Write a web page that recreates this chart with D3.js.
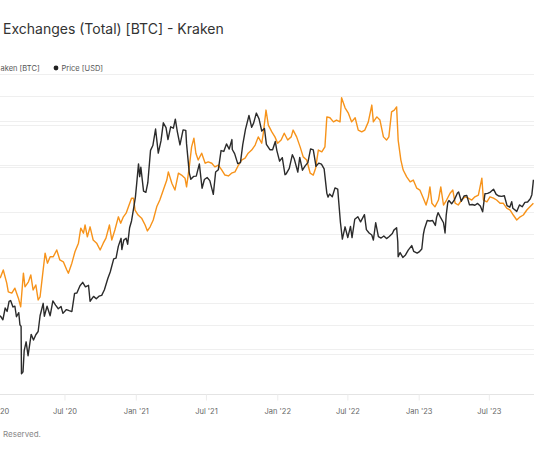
<!DOCTYPE html>
<html>
<head>
<meta charset="utf-8">
<script src="https://cdn.jsdelivr.net/npm/d3@7"></script>
<style>
  body { margin: 0; background: #fff; }
  svg { display: block; font-family: Inter, "Noto Sans", sans-serif; }
</style>
</head>
<body>
<svg id="chart" width="534" height="462"></svg>
<script>
// Kraken exchange balance [BTC] vs BTC price [USD], cropped view as in the reference

const balanceSeries = [
  ["2020-01-17",85500],["2020-01-25",87300],["2020-02-03",84400],["2020-02-07",82500],["2020-02-16",82200],
  ["2020-02-24",83300],["2020-03-04",81100],["2020-03-10",79200],["2020-03-17",86600],["2020-03-21",83600],
  ["2020-03-30",84700],["2020-04-05",86200],["2020-04-11",82900],["2020-04-18",84000],["2020-04-24",80700],
  ["2020-04-29",81400],["2020-05-06",86600],["2020-05-12",91000],["2020-05-18",88800],["2020-05-25",90200],
  ["2020-06-02",90200],["2020-06-11",91700],["2020-06-19",89500],["2020-06-28",89100],["2020-07-07",87300],
  ["2020-07-11",86600],["2020-07-20",88800],["2020-07-28",91300],["2020-08-06",93200],["2020-08-12",96500],
  ["2020-08-19",95400],["2020-08-23",97200],["2020-08-29",94600],["2020-09-05",96800],["2020-09-13",93900],
  ["2020-09-22",93200],["2020-10-01",91700],["2020-10-09",93200],["2020-10-16",94300],["2020-10-25",97200],
  ["2020-10-31",93900],["2020-11-08",96100],["2020-11-17",99000],["2020-11-23",97600],["2020-11-30",99000],
  ["2020-12-07",99800],["2020-12-13",101200],["2020-12-21",103100],["2020-12-26",103100],["2020-12-30",100500],
  ["2021-01-07",99400],["2021-01-16",98700],["2021-01-25",97200],["2021-01-31",95900],["2021-02-07",96800],
  ["2021-02-15",98300],["2021-02-24",101200],["2021-03-04",102700],["2021-03-13",104900],["2021-03-22",107100],
  ["2021-03-26",108900],["2021-04-04",106400],["2021-04-12",104900],["2021-04-21",108600],["2021-04-29",108200],
  ["2021-05-08",107500],["2021-05-12",105600],["2021-05-19",110000],["2021-05-25",114400],["2021-05-31",116300],
  ["2021-06-05",113000],["2021-06-11",111500],["2021-06-20",113000],["2021-06-29",110800],["2021-07-07",111100],
  ["2021-07-16",110800],["2021-07-24",110000],["2021-08-02",110400],["2021-08-11",109300],["2021-08-19",108200],
  ["2021-08-28",108000],["2021-09-05",108600],["2021-09-14",108900],["2021-09-23",110400],["2021-10-01",111500],
  ["2021-10-10",111900],["2021-10-18",113000],["2021-10-27",113700],["2021-11-05",114800],["2021-11-13",116600],
  ["2021-11-22",115200],["2021-11-26",117400],["2021-12-03",122500],["2021-12-09",119200],["2021-12-18",117700],
  ["2021-12-26",116600],["2022-01-02",115200],["2022-01-11",115900],["2022-01-19",117400],["2022-01-28",115900],
  ["2022-02-06",116600],["2022-02-11",118100],["2022-02-20",116600],["2022-03-01",114400],["2022-03-09",112200],
  ["2022-03-18",111500],["2022-03-27",108600],["2022-04-04",108200],["2022-04-10",109700],["2022-04-17",113700],
  ["2022-04-26",113300],["2022-05-04",114400],["2022-05-09",121000],["2022-05-17",120800],["2022-05-26",119900],
  ["2022-06-03",120300],["2022-06-12",119900],["2022-06-16",125200],["2022-06-25",123000],["2022-07-03",121900],
  ["2022-07-12",119900],["2022-07-21",120800],["2022-07-29",118100],["2022-08-07",117700],["2022-08-15",118100],
  ["2022-08-24",119900],["2022-09-02",123600],["2022-09-06",119900],["2022-09-15",121000],["2022-09-23",120300],
  ["2022-10-02",116600],["2022-10-10",115900],["2022-10-16",116600],["2022-10-23",122100],["2022-10-30",122500],
  ["2022-11-05",123200],["2022-11-09",115900],["2022-11-16",111500],["2022-11-22",109300],["2022-12-01",107800],
  ["2022-12-10",106700],["2022-12-18",107100],["2022-12-27",105300],["2023-01-04",104900],["2023-01-13",103100],
  ["2023-01-20",101600],["2023-01-26",103400],["2023-01-30",105600],["2023-02-04",102000],["2023-02-12",101200],
  ["2023-02-21",102700],["2023-02-27",105600],["2023-03-06",101600],["2023-03-14",102700],["2023-03-23",104200],
  ["2023-03-30",104900],["2023-04-05",102000],["2023-04-13",101600],["2023-04-22",102700],["2023-05-01",103400],
  ["2023-05-09",103100],["2023-05-18",102700],["2023-05-26",103400],["2023-06-04",103800],["2023-06-13",107500],
  ["2023-06-17",102700],["2023-06-26",102300],["2023-07-04",103400],["2023-07-13",103100],["2023-07-21",102700],
  ["2023-07-30",102000],["2023-08-07",102000],["2023-08-16",100900],["2023-08-25",100500],["2023-09-02",99400],
  ["2023-09-11",98300],["2023-09-20",99000],["2023-09-28",99400],["2023-10-07",100500],["2023-10-15",101200],
  ["2023-10-24",102000]
];

const priceSeries = [
  ["2020-01-01",7200],["2020-01-07",8160],["2020-01-14",8840],["2020-01-19",8700],["2020-01-24",8440],
  ["2020-01-30",9500],["2020-02-04",9180],["2020-02-09",10150],["2020-02-13",10240],["2020-02-19",9600],
  ["2020-02-24",9670],["2020-02-28",8700],["2020-03-05",9060],["2020-03-08",8030],["2020-03-11",7900],
  ["2020-03-12",4900],["2020-03-16",5000],["2020-03-19",6190],["2020-03-24",6760],["2020-03-29",5880],
  ["2020-04-06",7290],["2020-04-12",6880],["2020-04-18",7260],["2020-04-24",7500],["2020-04-29",8790],
  ["2020-05-07",9960],["2020-05-10",8740],["2020-05-17",9670],["2020-05-25",8790],["2020-06-01",10200],
  ["2020-06-08",9780],["2020-06-15",9430],["2020-06-22",9650],["2020-06-27",9000],["2020-07-06",9350],
  ["2020-07-13",9250],["2020-07-20",9160],["2020-07-27",11000],["2020-08-02",11050],["2020-08-10",11880],
  ["2020-08-17",12300],["2020-08-24",11750],["2020-09-01",11940],["2020-09-05",10170],["2020-09-14",10680],
  ["2020-09-21",10420],["2020-09-28",10700],["2020-10-05",10790],["2020-10-12",11420],["2020-10-21",12820],
  ["2020-10-27",13650],["2020-11-05",15580],["2020-11-11",15700],["2020-11-17",17700],["2020-11-24",19150],
  ["2020-11-26",17100],["2020-12-01",18800],["2020-12-07",19170],["2020-12-11",18050],["2020-12-16",21300],
  ["2020-12-21",22800],["2020-12-27",26300],["2020-12-31",28990],
  ["2021-01-03",32800],["2021-01-08",40500],["2021-01-11",35600],["2021-01-14",39200],["2021-01-21",30800],
  ["2021-01-27",30400],["2021-02-01",33500],["2021-02-08",46400],["2021-02-14",48700],["2021-02-21",57500],
  ["2021-02-28",45100],["2021-03-07",51000],["2021-03-13",61200],["2021-03-20",58300],["2021-03-25",51700],
  ["2021-04-01",58800],["2021-04-08",58000],["2021-04-13",63500],["2021-04-18",56200],["2021-04-25",49000],
  ["2021-05-03",57000],["2021-05-10",56700],["2021-05-12",49500],["2021-05-19",37000],["2021-05-23",34700],
  ["2021-05-30",35700],["2021-06-06",35800],["2021-06-14",40500],["2021-06-21",31700],["2021-06-27",34600],
  ["2021-07-04",35300],["2021-07-11",34200],["2021-07-20",29800],["2021-07-26",37300],["2021-08-02",38200],
  ["2021-08-09",46300],["2021-08-16",45900],["2021-08-23",49500],["2021-08-30",47000],["2021-09-06",51700],
  ["2021-09-07",46800],["2021-09-13",44900],["2021-09-21",40600],["2021-09-28",41000],["2021-10-04",49100],
  ["2021-10-11",57300],["2021-10-20",65900],["2021-10-27",58500],["2021-11-01",61000],["2021-11-08",67500],
  ["2021-11-15",63700],["2021-11-22",56300],["2021-11-29",57800],["2021-12-04",49300],["2021-12-13",46700],
  ["2021-12-20",46700],["2021-12-27",50700],["2021-12-31",46300],
  ["2022-01-07",41600],["2022-01-14",43100],["2022-01-21",36300],["2022-01-24",36600],["2022-02-01",38700],
  ["2022-02-09",44400],["2022-02-14",42500],["2022-02-23",37300],["2022-02-28",43200],["2022-03-07",38000],
  ["2022-03-14",39700],["2022-03-21",41000],["2022-03-28",47100],["2022-04-04",46600],["2022-04-11",39500],
  ["2022-04-18",40800],["2022-04-25",40400],["2022-05-02",38500],["2022-05-09",30100],["2022-05-12",29000],
  ["2022-05-16",29900],["2022-05-23",29100],["2022-05-30",31800],["2022-06-06",31400],["2022-06-13",22500],
  ["2022-06-18",19000],["2022-06-25",21500],["2022-07-02",19300],["2022-07-09",21600],["2022-07-13",19300],
  ["2022-07-20",23200],["2022-07-28",23800],["2022-08-04",22600],["2022-08-14",24300],["2022-08-19",20900],
  ["2022-08-26",20200],["2022-09-02",19800],["2022-09-06",18800],["2022-09-12",22400],["2022-09-19",19500],
  ["2022-09-26",19200],["2022-10-03",19600],["2022-10-10",19100],["2022-10-17",19500],["2022-10-25",20100],
  ["2022-10-29",20800],["2022-11-05",21300],["2022-11-08",18500],["2022-11-09",15900],["2022-11-14",16600],
  ["2022-11-21",15800],["2022-11-28",16200],["2022-12-05",17000],["2022-12-14",17800],["2022-12-19",16800],
  ["2022-12-28",16500],
  ["2023-01-02",16700],["2023-01-09",17200],["2023-01-13",19900],["2023-01-16",21100],["2023-01-23",22900],
  ["2023-01-30",22800],["2023-02-06",22900],["2023-02-13",21800],["2023-02-16",23600],["2023-02-20",24800],
  ["2023-02-27",23500],["2023-03-06",22400],["2023-03-10",20200],["2023-03-13",24200],["2023-03-17",27400],
  ["2023-03-20",28000],["2023-03-27",27100],["2023-04-03",28200],["2023-04-11",30200],["2023-04-14",30500],
  ["2023-04-21",27800],["2023-04-28",29300],["2023-05-05",29500],["2023-05-12",26800],["2023-05-19",26900],
  ["2023-05-26",26700],["2023-06-02",27200],["2023-06-09",26500],["2023-06-15",25000],["2023-06-21",30000],
  ["2023-06-28",30100],["2023-07-05",30500],["2023-07-13",31400],["2023-07-20",29800],["2023-07-27",29300],
  ["2023-08-03",29200],["2023-08-10",29400],["2023-08-17",26600],["2023-08-24",26200],["2023-08-29",27700],
  ["2023-09-01",25900],["2023-09-11",25100],["2023-09-18",26800],["2023-09-25",26300],["2023-10-02",27500],
  ["2023-10-09",27600],["2023-10-16",28500],["2023-10-20",29700],["2023-10-23",33100],["2023-10-24",34500]
];

// Jan '20 sits past the left edge of the crop; only its "20" shows
const dateTicks = ["2020-07-01","2021-01-01","2021-07-01","2022-01-01","2022-07-01","2023-01-01","2023-07-01"];
const priceTicks = [4000, 6000, 8000, 10000, 20000, 40000, 60000, 80000, 100000];
const balanceTicks = [70000, 80000, 90000, 100000, 110000, 120000];

const parse = d3.utcParse("%Y-%m-%d");
const balance = balanceSeries.map(([d, v]) => ({ date: parse(d), value: v }));
const price = priceSeries.map(([d, v]) => ({ date: parse(d), value: v }));

const svg = d3.select("#chart");
svg.append("rect").attr("width", 534).attr("height", 462).attr("fill", "#fff");

// the plot is wider than the window; only this part shows
const x = d3.scaleUtc().domain([parse("2021-01-01"), parse("2023-01-01")]).range([135.8, 418.7]);
const yBal = d3.scaleLinear().domain([60000, 130000]).range([394, 76]);
const yPrice = d3.scaleLog().domain([4000, 100000]).range([394, 74]);

// Title (visible part of the cropped header)
svg.append("text").attr("x", 3).attr("y", 34)
  .style("font-size", "14px").attr("fill", "#333").text("Exchanges (Total) [BTC] - Kraken");

// Legend
const leg = svg.append("g").style("font-size", "7.5px").attr("fill", "#555");
leg.append("text").attr("x", 0.5).attr("y", 70.7).text("aken [BTC]");
leg.append("circle").attr("cx", 56).attr("cy", 68).attr("r", 2.4).attr("fill", "#222");
leg.append("text").attr("x", 61.5).attr("y", 70.7).text("Price [USD]");

// Grid lines
const grid = svg.append("g").attr("stroke", "#efefef").attr("stroke-width", 1);
grid.selectAll(".gb").data(balanceTicks).enter().append("line")
  .attr("x1", 0).attr("x2", 534)
  .attr("y1", d => Math.round(yBal(d)) + 0.5).attr("y2", d => Math.round(yBal(d)) + 0.5);
grid.selectAll(".gp").data(priceTicks).enter().append("line")
  .attr("x1", 0).attr("x2", 534)
  .attr("y1", d => Math.round(yPrice(d)) + 0.5).attr("y2", d => Math.round(yPrice(d)) + 0.5);

// X axis
const xAxis = d3.axisBottom(x)
  .tickValues(dateTicks.map(parse))
  .tickFormat(d3.utcFormat("%b '%y"))
  .tickSize(6).tickPadding(8);
const ax = svg.append("g").attr("transform", "translate(0,394.5)").call(xAxis);
ax.select(".domain").attr("stroke", "#e4e4e4").attr("d", "M0,0H534");
ax.selectAll(".tick line").attr("stroke", "#ececec");
ax.selectAll(".tick text").attr("fill", "#666").style("font-size", "7.5px")
  .style("font-family", "Inter, 'Noto Sans', sans-serif");
ax.append("text").attr("x", 0).attr("y", 14).attr("dy", "0.71em")
  .attr("text-anchor", "start").attr("fill", "#666").style("font-size", "7.5px")
  .style("font-family", "Inter, 'Noto Sans', sans-serif").text("20");

// Lines
svg.append("clipPath").attr("id", "plot-clip")
  .append("rect").attr("x", 0).attr("y", 60).attr("width", 534).attr("height", 334);

const plot = svg.append("g").attr("clip-path", "url(#plot-clip)");

plot.append("path").datum(balance)
  .attr("fill", "none").attr("stroke", "#f7931a").attr("stroke-width", 1.4)
  .attr("stroke-linejoin", "round")
  .attr("d", d3.line().x(d => x(d.date)).y(d => yBal(d.value)));

plot.append("path").datum(price)
  .attr("fill", "none").attr("stroke", "#2b2b2b").attr("stroke-width", 1.4)
  .attr("stroke-linejoin", "round")
  .attr("d", d3.line().x(d => x(d.date)).y(d => yPrice(d.value)));

// Footer (visible part)
svg.append("text").attr("x", 3).attr("y", 436.5)
  .style("font-size", "8px").attr("fill", "#888").text("Reserved.");
</script>
</body>
</html>
